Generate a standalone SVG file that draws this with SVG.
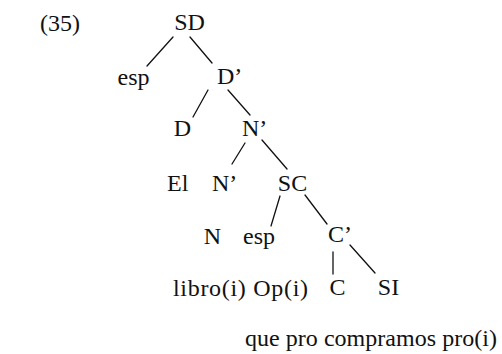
<svg xmlns="http://www.w3.org/2000/svg" width="502" height="354" viewBox="0 0 502 354">
  <style>
    text { font-family: "Liberation Serif", "Times New Roman", serif; font-size: 24px; fill: #111; }
    .m { text-anchor: middle; }
    .edge { stroke: #111; stroke-width: 1.3; fill: none; stroke-linecap: round; }
  </style>
  <rect width="502" height="354" fill="#ffffff"/>
  <g id="label-35"><text x="40" y="31">(35)</text></g>
  <g id="connectors">
    <line class="edge" x1="173" y1="37" x2="147" y2="66"/>
    <line class="edge" x1="190" y1="37" x2="212" y2="63"/>
    <line class="edge" x1="208" y1="90" x2="193" y2="117"/>
    <line class="edge" x1="228" y1="90" x2="250" y2="115"/>
    <line class="edge" x1="245" y1="143" x2="232" y2="164"/>
    <line class="edge" x1="262" y1="140" x2="287" y2="169"/>
    <line class="edge" x1="280" y1="196" x2="271" y2="226"/>
    <line class="edge" x1="305" y1="195" x2="327" y2="224"/>
    <line class="edge" x1="333" y1="252" x2="333" y2="274"/>
    <line class="edge" x1="350" y1="245" x2="375" y2="273"/>
  </g>
  <g id="n-SD"><text class="m" x="189.5" y="30">SD</text></g>
  <g id="n-esp1"><text class="m" x="133.5" y="85">esp</text></g>
  <g id="n-Dbar"><text x="217" y="84">D’</text></g>
  <g id="n-D"><text class="m" x="182.5" y="136">D</text></g>
  <g id="n-Nbar1"><text x="242" y="136">N’</text></g>
  <g id="n-El"><text x="167" y="191">El</text></g>
  <g id="n-Nbar2"><text x="212" y="191">N’</text></g>
  <g id="n-SC"><text class="m" x="292.5" y="191">SC</text></g>
  <g id="n-N"><text class="m" x="212.5" y="244">N</text></g>
  <g id="n-esp2"><text x="243" y="244">esp</text></g>
  <g id="n-Cbar"><text x="328" y="242">C’</text></g>
  <g id="n-libro"><text x="173" y="296" textLength="135" lengthAdjust="spacing">libro(i) Op(i)</text></g>
  <g id="n-C"><text class="m" x="337.5" y="295">C</text></g>
  <g id="n-SI"><text class="m" x="388.5" y="295">SI</text></g>
  <g id="n-que"><text x="245" y="346" textLength="252" lengthAdjust="spacing">que pro compramos pro(i)</text></g>
</svg>
